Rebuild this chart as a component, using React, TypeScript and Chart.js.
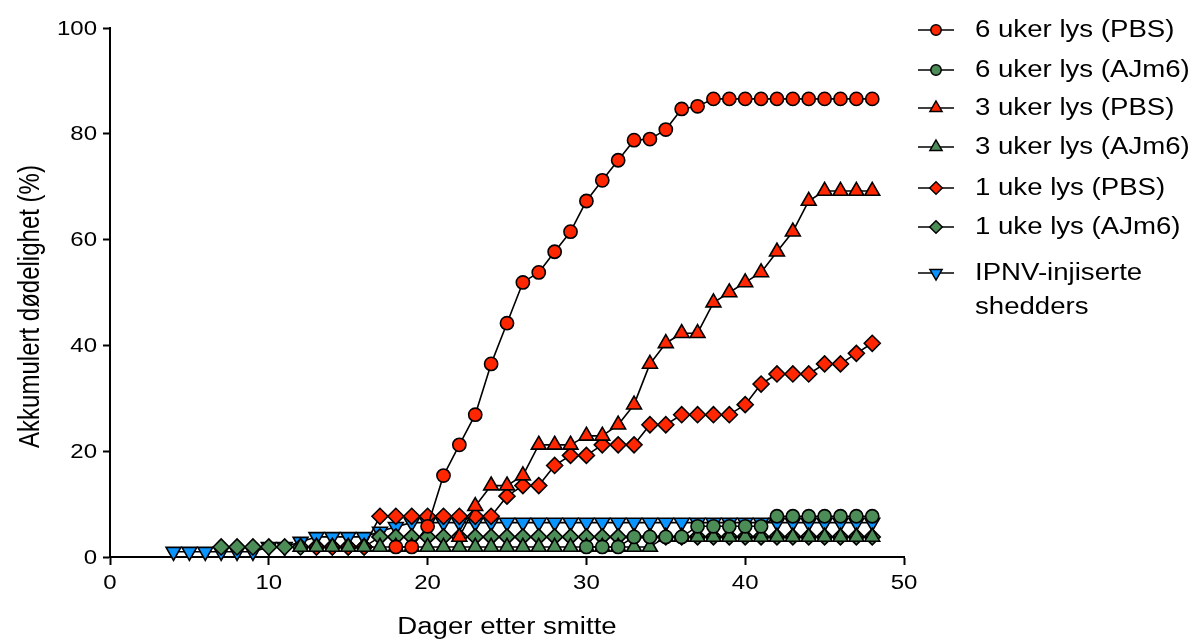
import React, { useEffect, useRef } from 'react';
import { Chart, registerables } from 'chart.js';

Chart.register(...registerables);

// ---------- data ----------
const days6PBS = [18, 19, 20, 21, 22, 23, 24, 25, 26, 27, 28, 29, 30, 31, 32, 33, 34, 35, 36, 37, 38, 39, 40, 41, 42, 43, 44, 45, 46, 47, 48];
const mort6PBS = [1.9, 1.9, 5.8, 15.4, 21.2, 26.9, 36.5, 44.2, 51.9, 53.8, 57.7, 61.5, 67.3, 71.2, 75.0, 78.8, 79.0, 80.8, 84.7, 85.2, 86.6, 86.6, 86.6, 86.6, 86.6, 86.6, 86.6, 86.6, 86.6, 86.6, 86.6];

const days6AJm6 = [30, 31, 32, 33, 34, 35, 36, 37, 38, 39, 40, 41, 42, 43, 44, 45, 46, 47, 48];
const mort6AJm6 = [1.9, 1.9, 1.9, 3.8, 3.8, 3.8, 3.8, 5.8, 5.8, 5.8, 5.8, 5.8, 7.7, 7.7, 7.7, 7.7, 7.7, 7.7, 7.7];

const days3PBS = [22, 23, 24, 25, 26, 27, 28, 29, 30, 31, 32, 33, 34, 35, 36, 37, 38, 39, 40, 41, 42, 43, 44, 45, 46, 47, 48];
const mort3PBS = [3.8, 9.6, 13.5, 13.5, 15.4, 21.2, 21.2, 21.2, 22.9, 22.9, 25.0, 28.8, 36.5, 40.4, 42.3, 42.3, 48.1, 50.0, 51.9, 53.8, 57.7, 61.5, 67.3, 69.2, 69.2, 69.2, 69.2];

const days3AJm6 = [12, 13, 14, 15, 16, 17, 18, 19, 20, 21, 22, 23, 24, 25, 26, 27, 28, 29, 30, 31, 32, 33, 34, 35, 36, 37, 38, 39, 40, 41, 42, 43, 44, 45, 46, 47, 48];
const mort3AJm6 = [1.9, 1.9, 1.9, 1.9, 1.9, 1.9, 1.9, 1.9, 1.9, 1.9, 1.9, 1.9, 1.9, 1.9, 1.9, 1.9, 1.9, 1.9, 1.9, 1.9, 1.9, 1.9, 1.9, 3.8, 3.8, 3.8, 3.8, 3.8, 3.8, 3.8, 3.8, 3.8, 3.8, 3.8, 3.8, 3.8, 3.8];

const days1PBS = [13, 14, 15, 16, 17, 18, 19, 20, 21, 22, 23, 24, 25, 26, 27, 28, 29, 30, 31, 32, 33, 34, 35, 36, 37, 38, 39, 40, 41, 42, 43, 44, 45, 46, 47, 48];
const mort1PBS = [1.9, 1.9, 1.9, 1.9, 7.7, 7.7, 7.7, 7.7, 7.7, 7.7, 7.7, 7.7, 11.5, 13.5, 13.5, 17.3, 19.2, 19.2, 21.2, 21.2, 21.2, 25.0, 25.0, 26.9, 26.9, 26.9, 26.9, 28.8, 32.7, 34.6, 34.6, 34.6, 36.5, 36.5, 38.5, 40.4];

const days1AJm6 = [7, 8, 9, 10, 11, 12, 13, 14, 15, 16, 17, 18, 19, 20, 21, 22, 23, 24, 25, 26, 27, 28, 29, 30, 31, 32, 33, 34, 35, 36, 37, 38, 39, 40, 41, 42, 43, 44, 45, 46, 47, 48];
const mort1AJm6 = [1.9, 1.9, 1.9, 1.9, 1.9, 1.9, 1.9, 1.9, 1.9, 1.9, 3.8, 3.8, 3.8, 3.8, 3.8, 3.8, 3.8, 3.8, 3.8, 3.8, 3.8, 3.8, 3.8, 3.8, 3.8, 3.8, 3.8, 3.8, 3.8, 3.8, 3.8, 3.8, 3.8, 3.8, 3.8, 3.8, 3.8, 3.8, 3.8, 3.8, 3.8, 3.8];

const daysIPNV = [4, 5, 6, 7, 8, 9, 10, 11, 12, 13, 14, 15, 16, 17, 18, 19, 20, 21, 22, 23, 24, 25, 26, 27, 28, 29, 30, 31, 32, 33, 34, 35, 36, 37, 38, 39, 40, 41, 42, 43, 44, 45, 46, 47, 48];
const mortIPNV = [1.0, 1.0, 1.0, 1.0, 1.0, 1.0, 1.9, 1.9, 2.9, 3.8, 3.8, 3.8, 3.8, 4.8, 5.7, 6.5, 6.5, 6.5, 6.5, 6.5, 6.5, 6.5, 6.5, 6.5, 6.5, 6.5, 6.5, 6.5, 6.5, 6.5, 6.5, 6.5, 6.5, 6.5, 6.5, 6.5, 6.5, 6.5, 6.5, 6.5, 6.5, 6.5, 6.5, 6.5, 6.5];

const seriesLabels = [
  ['6 uker lys (PBS)'],
  ['6 uker lys (AJm6)'],
  ['3 uker lys (PBS)'],
  ['3 uker lys (AJm6)'],
  ['1 uke lys (PBS)'],
  ['1 uke lys (AJm6)'],
  ['IPNV-injiserte', 'shedders'],
];

const xTicks = [0, 10, 20, 30, 40, 50];
const yTicks = [0, 20, 40, 60, 80, 100];
const xTitle = 'Dager etter smitte';
const yTitle = 'Akkumulert dødelighet (%)';

// ---------- styling ----------
const RED = '#FF2600';
const GREEN = '#4C8C57';
const BLUE = '#0A94FF';
const FONT = '"Liberation Sans", Arial, Helvetica, sans-serif';
const STRETCH = 1.2;

type Shape = 'circle' | 'up' | 'diamond' | 'down';
const seriesStyle: { color: string; shape: Shape }[] = [
  { color: RED, shape: 'circle' },
  { color: GREEN, shape: 'circle' },
  { color: RED, shape: 'up' },
  { color: GREEN, shape: 'up' },
  { color: RED, shape: 'diamond' },
  { color: GREEN, shape: 'diamond' },
  { color: BLUE, shape: 'down' },
];
const seriesDays = [days6PBS, days6AJm6, days3PBS, days3AJm6, days1PBS, days1AJm6, daysIPNV];
const seriesVals = [mort6PBS, mort6AJm6, mort3PBS, mort3AJm6, mort1PBS, mort1AJm6, mortIPNV];

function pointProps(shape: Shape) {
  switch (shape) {
    case 'circle':
      return { pointStyle: 'circle', pointRadius: 6.6, pointRotation: 0 };
    case 'up':
      return { pointStyle: 'triangle', pointRadius: 8.6, pointRotation: 0 };
    case 'down':
      return { pointStyle: 'triangle', pointRadius: 8.6, pointRotation: 180 };
    default:
      return { pointStyle: 'rectRot', pointRadius: 8, pointRotation: 0 };
  }
}

function drawStretched(ctx: CanvasRenderingContext2D, text: string, x: number, y: number, rotate = false) {
  ctx.save();
  ctx.translate(x, y);
  ctx.scale(STRETCH, 1);
  if (rotate) ctx.rotate(-Math.PI / 2);
  ctx.fillText(text, 0, 0);
  ctx.restore();
}

function drawMarker(ctx: CanvasRenderingContext2D, shape: Shape, color: string, x: number, y: number) {
  ctx.save();
  ctx.beginPath();
  if (shape === 'circle') {
    ctx.arc(x, y, 5.2, 0, Math.PI * 2);
  } else if (shape === 'diamond') {
    const r = 6.3;
    ctx.moveTo(x, y - r);
    ctx.lineTo(x + r, y);
    ctx.lineTo(x, y + r);
    ctx.lineTo(x - r, y);
    ctx.closePath();
  } else {
    const r = 7;
    const dir = shape === 'up' ? 1 : -1;
    ctx.moveTo(x, y - dir * r);
    ctx.lineTo(x + r * 0.866, y + dir * r * 0.5);
    ctx.lineTo(x - r * 0.866, y + dir * r * 0.5);
    ctx.closePath();
  }
  ctx.fillStyle = color;
  ctx.fill();
  ctx.lineWidth = 1.5;
  ctx.strokeStyle = '#000';
  ctx.stroke();
  ctx.restore();
}

const legendRowY = [30, 70, 108, 147, 188, 227, 273];
const legendLineGap = 34;

const textPlugin = {
  id: 'stretchedText',
  afterDraw(chart: any) {
    const ctx: CanvasRenderingContext2D = chart.ctx;
    const xs = chart.scales.x;
    const ys = chart.scales.y;
    const area = chart.chartArea;
    ctx.save();
    ctx.fillStyle = '#000';

    // tick labels
    ctx.font = `20px ${FONT}`;
    ctx.textAlign = 'right';
    ctx.textBaseline = 'middle';
    yTicks.forEach((v) => drawStretched(ctx, String(v), area.left - 13, ys.getPixelForValue(v) + 1));
    ctx.textAlign = 'center';
    xTicks.forEach((v) => drawStretched(ctx, String(v), xs.getPixelForValue(v), area.bottom + 26));

    // axis titles
    ctx.font = `23px ${FONT}`;
    ctx.textAlign = 'center';
    ctx.textBaseline = 'middle';
    drawStretched(ctx, xTitle, (area.left + area.right) / 2, 628);
    ctx.font = `24px ${FONT}`;
    drawStretched(ctx, yTitle, 31, (area.top + area.bottom) / 2 + 14, true);

    // legend
    ctx.font = `23px ${FONT}`;
    ctx.textAlign = 'left';
    seriesLabels.forEach((lines, i) => {
      const y = legendRowY[i];
      ctx.beginPath();
      ctx.moveTo(918, y);
      ctx.lineTo(954, y);
      ctx.lineWidth = 1.5;
      ctx.strokeStyle = '#000';
      ctx.stroke();
      drawMarker(ctx, seriesStyle[i].shape, seriesStyle[i].color, 936, y);
      ctx.fillStyle = '#000';
      lines.forEach((t, k) => drawStretched(ctx, t, 975, y + 1 + k * legendLineGap));
    });
    ctx.restore();
  },
};

export default function App() {
  const ref = useRef<HTMLCanvasElement>(null);

  useEffect(() => {
    const canvas = ref.current;
    if (!canvas) return;
    const datasets = seriesDays.map((days, i) => ({
      label: seriesLabels[i].join(' '),
      data: days.map((d, k) => ({ x: d, y: seriesVals[i][k] })),
      borderColor: '#000',
      borderWidth: 1.6,
      backgroundColor: seriesStyle[i].color,
      pointBackgroundColor: seriesStyle[i].color,
      pointBorderColor: '#000',
      pointBorderWidth: 1.6,
      ...pointProps(seriesStyle[i].shape),
      tension: 0,
      fill: false,
      clip: false as any,
    }));

    const chart = new Chart(canvas, {
      type: 'line',
      data: { datasets: datasets as any },
      options: {
        animation: false,
        responsive: false,
        devicePixelRatio: 1,
        layout: { padding: { left: 0, right: 288, top: 28, bottom: 0 } },
        plugins: { legend: { display: false }, tooltip: { enabled: false } },
        elements: { line: { borderJoinStyle: 'round' } },
        scales: {
          x: {
            type: 'linear',
            min: 0,
            max: 50,
            afterBuildTicks: (s: any) => {
              s.ticks = xTicks.map((v) => ({ value: v }));
            },
            afterFit: (s: any) => {
              s.height = 84;
            },
            ticks: { display: false },
            grid: { drawOnChartArea: false, drawTicks: true, tickLength: 8, tickWidth: 2, tickColor: '#000', color: '#000' },
            border: { display: true, color: '#000', width: 2 },
          },
          y: {
            type: 'linear',
            min: 0,
            max: 100,
            afterBuildTicks: (s: any) => {
              s.ticks = yTicks.map((v) => ({ value: v }));
            },
            afterFit: (s: any) => {
              s.width = 110;
            },
            ticks: { display: false },
            grid: { drawOnChartArea: false, drawTicks: true, tickLength: 7, tickWidth: 2, tickColor: '#000', color: '#000' },
            border: { display: true, color: '#000', width: 2 },
          },
        },
      } as any,
      plugins: [textPlugin],
    });
    return () => chart.destroy();
  }, []);

  return (
    <div style={{ position: 'absolute', left: 0, top: 0, width: 1192, height: 641, background: '#fff' }}>
      <canvas ref={ref} width={1192} height={641} style={{ width: '1192px', height: '641px', display: 'block' }} />
    </div>
  );
}
